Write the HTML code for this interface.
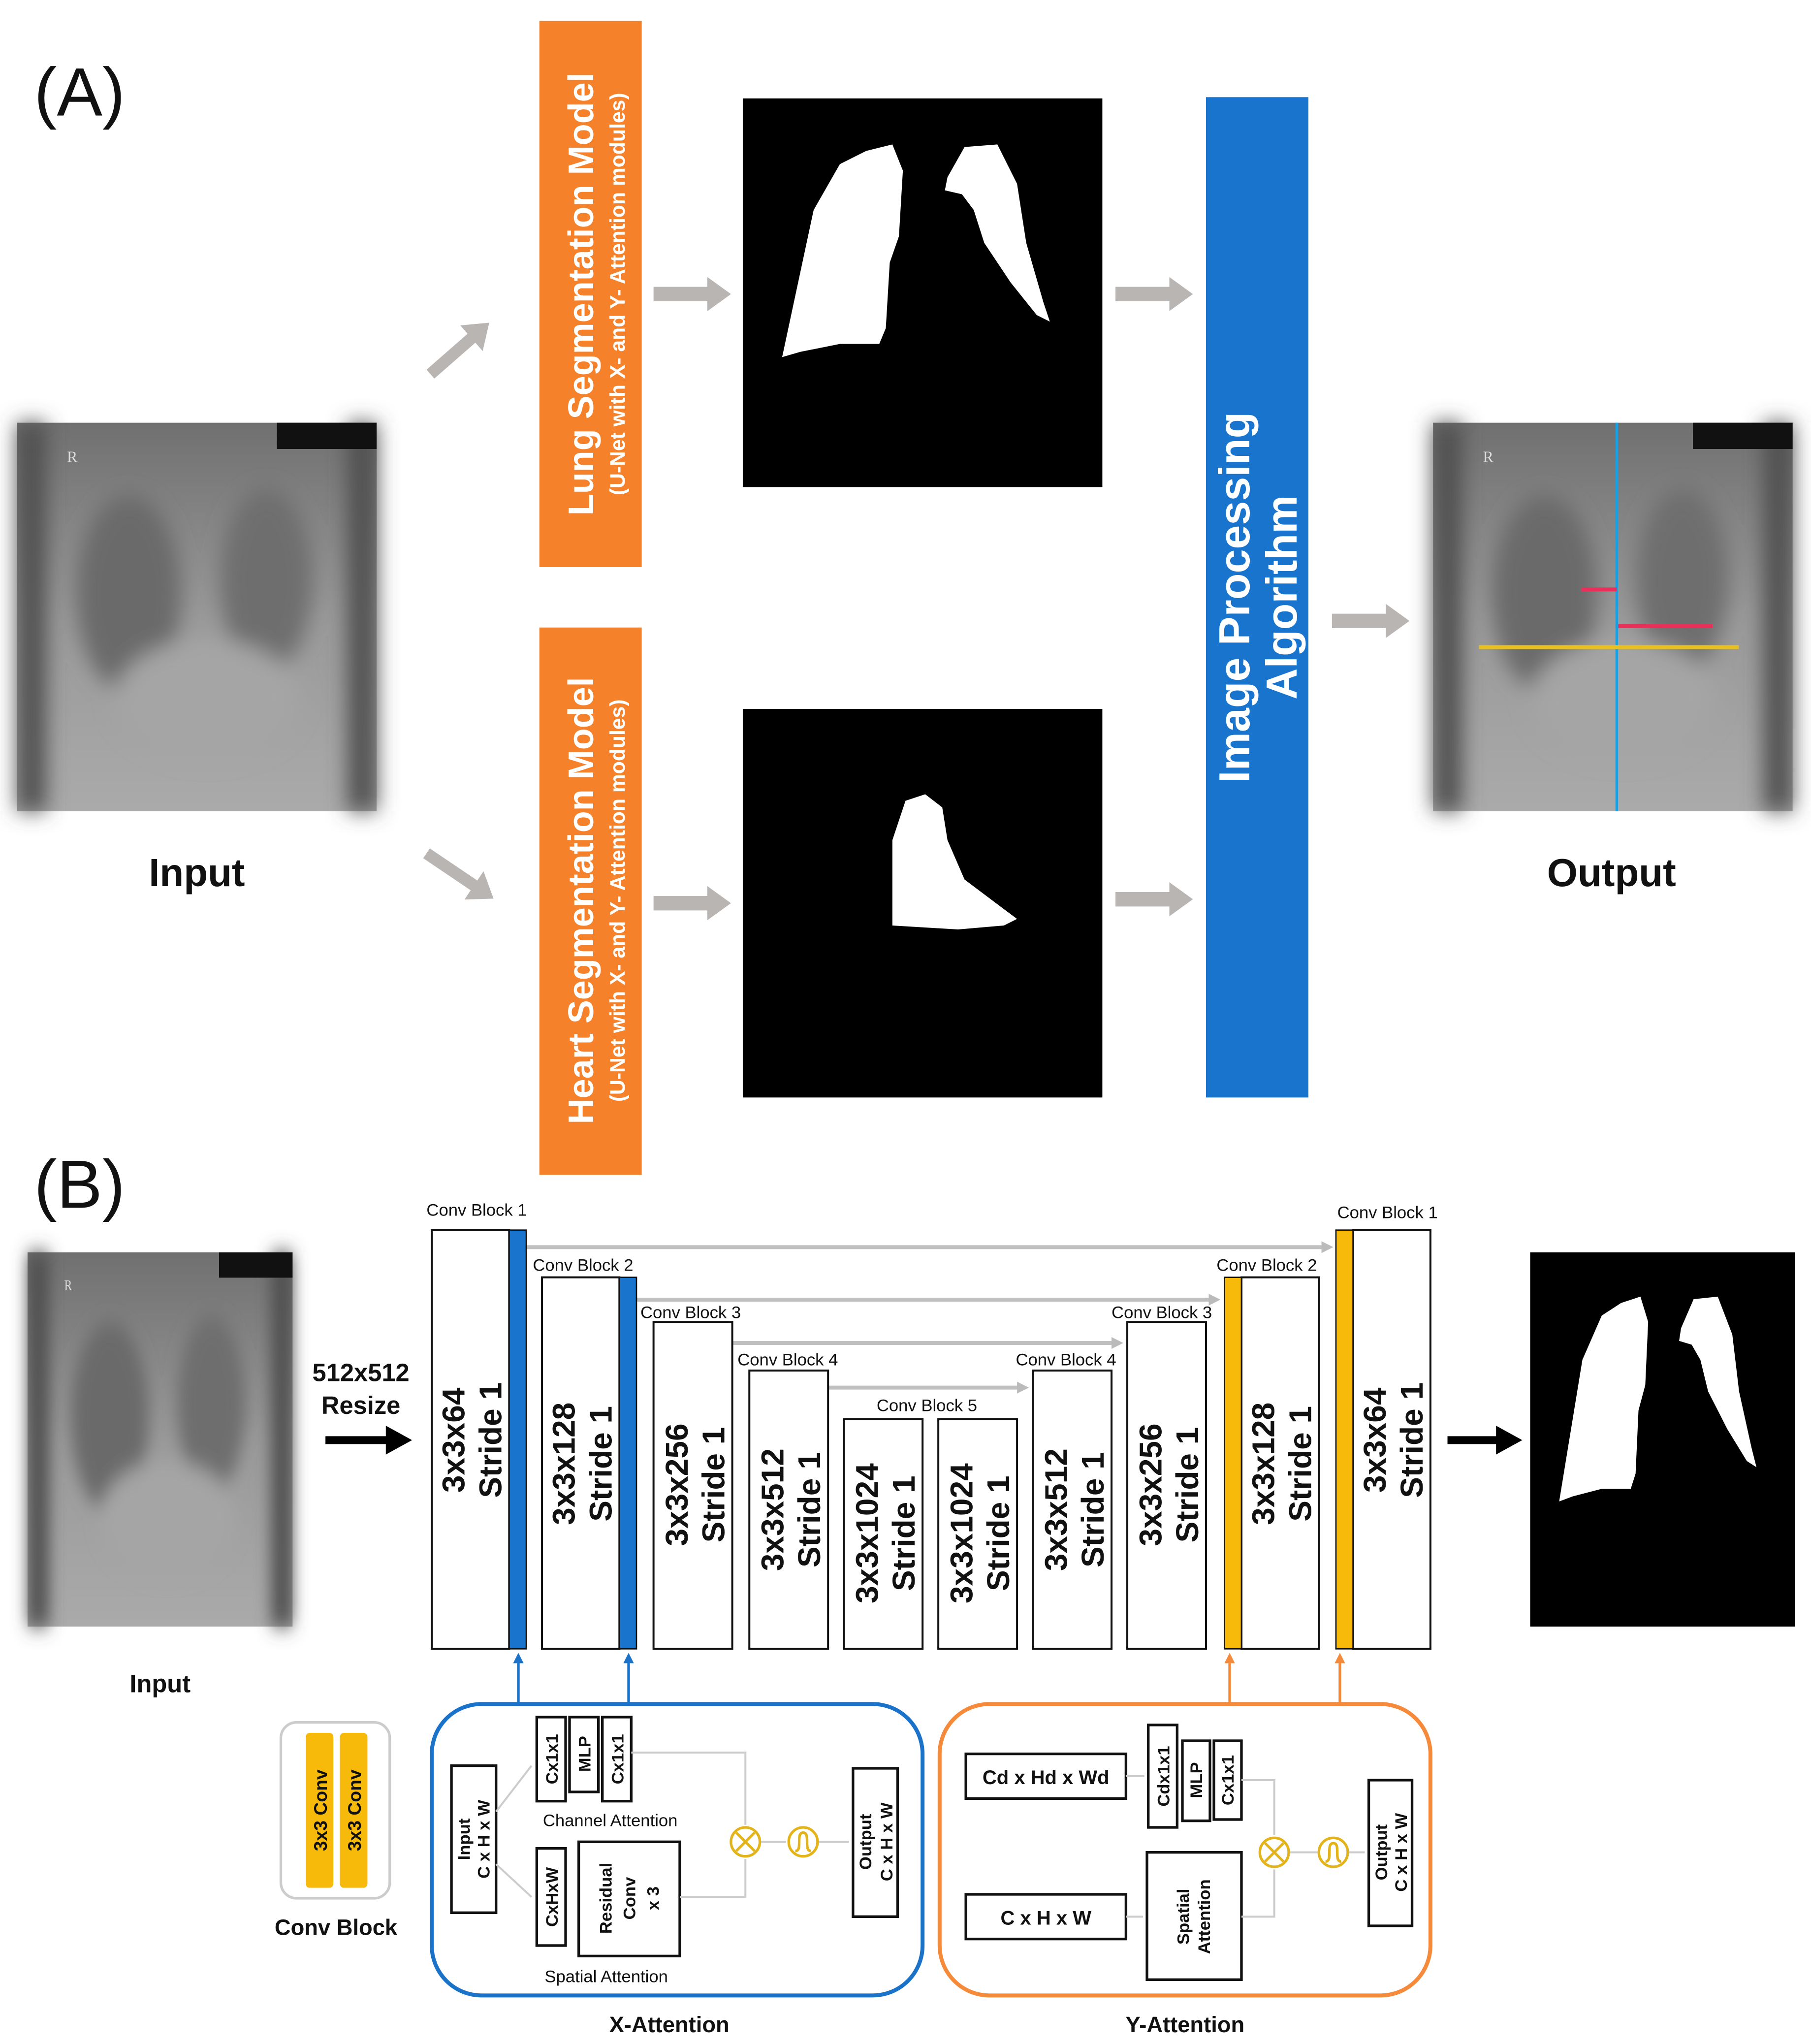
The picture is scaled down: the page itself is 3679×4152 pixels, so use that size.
<!DOCTYPE html>
<html><head><meta charset="utf-8"><style>html,body{margin:0;padding:0;background:#fff}svg{display:block}</style></head>
<body>
<svg width="3679" height="4152" viewBox="0 0 1380 1557" preserveAspectRatio="none" xmlns="http://www.w3.org/2000/svg" font-family="Liberation Sans, DejaVu Sans, sans-serif">
<defs>
<linearGradient id="xg" x1="0" y1="0" x2="0" y2="1"><stop offset="0" stop-color="#707070"/><stop offset="0.5" stop-color="#999"/><stop offset="1" stop-color="#aaa"/></linearGradient>
<filter id="bl"><feGaussianBlur stdDeviation="8"/></filter>
<marker id="ga" markerUnits="userSpaceOnUse" markerWidth="18" markerHeight="26" refX="1" refY="13" orient="auto"><path d="M0,0 L18,13 L0,26z" fill="#b9b5b3"/></marker>
<marker id="gs" markerUnits="userSpaceOnUse" markerWidth="9" markerHeight="9" refX="1" refY="4.5" orient="auto"><path d="M0,0 L9,4.5 L0,9z" fill="#bbb"/></marker>
<marker id="ba" markerUnits="userSpaceOnUse" markerWidth="8" markerHeight="8" refX="1" refY="4" orient="auto"><path d="M0,0 L8,4 L0,8z" fill="#1a73c9"/></marker>
<marker id="oa" markerUnits="userSpaceOnUse" markerWidth="8" markerHeight="8" refX="1" refY="4" orient="auto"><path d="M0,0 L8,4 L0,8z" fill="#f58a3a"/></marker>
<g id="xray">
<rect x="0" y="0" width="274" height="296" fill="url(#xg)"/>
<g filter="url(#bl)">
<ellipse cx="85" cy="130" rx="40" ry="75" fill="#6a6a6a"/>
<ellipse cx="190" cy="120" rx="35" ry="70" fill="#6e6e6e"/>
<ellipse cx="145" cy="210" rx="70" ry="45" fill="#a5a5a5"/>
<rect x="0" y="0" width="22" height="296" fill="#505050"/>
<rect x="252" y="0" width="22" height="296" fill="#505050"/>
</g>
<rect x="198" y="0" width="76" height="20" fill="#111"/>
<text x="38" y="30" font-size="12" fill="#ddd" font-family="Liberation Serif">R</text>
</g>
<g id="lung">
<rect x="0" y="0" width="274" height="296" fill="#000"/>
<path d="M30,197 L54,85 L74,50 L94,40 L114,35 L122,55 L119,105 L112,125 L109,175 L104,187 L74,187 L44,193Z" fill="#fff"/>
<path d="M156,60 L169,37 L194,35 L209,65 L216,110 L229,155 L234,170 L224,165 L204,140 L184,110 L176,85 L167,73 L154,70Z" fill="#fff"/>
</g>
</defs>

<!-- (A) -->
<text x="26" y="88" font-size="52" fill="#111">(A)</text>
<rect x="411" y="16" width="78" height="416" fill="#f5822a"/>
<text transform="translate(452,224) rotate(-90)" text-anchor="middle" font-size="27" font-weight="bold" fill="#fff">Lung Segmentation Model</text>
<text transform="translate(476,224) rotate(-90)" text-anchor="middle" font-size="16" font-weight="bold" fill="#fff">(U-Net with X- and Y- Attention modules)</text>
<rect x="411" y="478" width="78" height="417" fill="#f5822a"/>
<text transform="translate(452,686) rotate(-90)" text-anchor="middle" font-size="27" font-weight="bold" fill="#fff">Heart Segmentation Model</text>
<text transform="translate(476,686) rotate(-90)" text-anchor="middle" font-size="16" font-weight="bold" fill="#fff">(U-Net with X- and Y- Attention modules)</text>

<g stroke="#b9b5b3" stroke-width="11" fill="none" marker-end="url(#ga)">
<line x1="328" y1="285" x2="360" y2="257" stroke-width="9"/>
<line x1="325" y1="650" x2="362" y2="675" stroke-width="9"/>
<line x1="498" y1="224" x2="540" y2="224"/>
<line x1="498" y1="688" x2="540" y2="688"/>
<line x1="850" y1="224" x2="892" y2="224"/>
<line x1="850" y1="685" x2="892" y2="685"/>
<line x1="1015" y1="473" x2="1057" y2="473"/>
</g>

<use href="#lung" x="566" y="75"/>
<rect x="566" y="540" width="274" height="296" fill="#000"/>
<path d="M680,705 L680,640 L690,610 L705,605 L718,615 L722,640 L735,670 L775,700 L765,705 L730,708Z" fill="#fff"/>
<rect x="919" y="74" width="78" height="762" fill="#1874cd"/>
<text transform="translate(952,455) rotate(-90)" text-anchor="middle" font-size="33" font-weight="bold" fill="#fff">Image Processing</text>
<text transform="translate(988,455) rotate(-90)" text-anchor="middle" font-size="33" font-weight="bold" fill="#fff">Algorithm</text>

<use href="#xray" x="13" y="322"/>
<use href="#xray" x="1092" y="322"/>
<line x1="1232" y1="322" x2="1232" y2="618" stroke="#1aa0e0" stroke-width="2"/>
<line x1="1205" y1="449" x2="1232" y2="449" stroke="#e8305a" stroke-width="3"/>
<line x1="1233" y1="477" x2="1305" y2="477" stroke="#e8305a" stroke-width="3"/>
<line x1="1127" y1="493" x2="1325" y2="493" stroke="#e8c020" stroke-width="3"/>
<text x="150" y="675" text-anchor="middle" font-size="30" font-weight="bold" fill="#111">Input</text>
<text x="1228" y="675" text-anchor="middle" font-size="30" font-weight="bold" fill="#111">Output</text>

<!-- (B) -->
<text x="26" y="920" font-size="52" fill="#111">(B)</text>
<use href="#xray" transform="translate(21,954) scale(0.737,0.963)"/>
<text x="122" y="1289" text-anchor="middle" font-size="19" font-weight="bold" fill="#111">Input</text>
<text x="275" y="1052" text-anchor="middle" font-size="19" font-weight="bold" fill="#111">512x512</text>
<text x="275" y="1077" text-anchor="middle" font-size="19" font-weight="bold" fill="#111">Resize</text>
<line x1="248" y1="1097" x2="296" y2="1097" stroke="#000" stroke-width="6"/>
<path d="M294,1086 L314,1097 L294,1108Z" fill="#000"/>
<line x1="1103" y1="1097" x2="1142" y2="1097" stroke="#000" stroke-width="6"/>
<path d="M1140,1086 L1160,1097 L1140,1108Z" fill="#000"/>
<use href="#lung" transform="translate(1166,954) scale(0.737,0.963)"/>

<!-- skip arrows -->
<g stroke="#c0c0c0" stroke-width="3" fill="none" marker-end="url(#gs)">
<line x1="401" y1="950" x2="1008" y2="950"/>
<line x1="485" y1="990" x2="922" y2="990"/>
<line x1="558" y1="1023" x2="848" y2="1023"/>
<line x1="631" y1="1057" x2="776" y2="1057"/>
</g>

<g stroke="#111" stroke-width="1.5" fill="#fff">
<rect x="329" y="937" width="59" height="319"/>
<rect x="413" y="973" width="59" height="283"/>
<rect x="498" y="1007" width="60" height="249"/>
<rect x="571" y="1044" width="60" height="212"/>
<rect x="643" y="1081" width="60" height="175"/>
<rect x="715" y="1081" width="60" height="175"/>
<rect x="787" y="1044" width="60" height="212"/>
<rect x="859" y="1007" width="60" height="249"/>
<rect x="946" y="973" width="59" height="283"/>
<rect x="1031" y="937" width="59" height="319"/>
</g>
<g stroke="#111" stroke-width="1">
<rect x="388" y="937" width="13" height="319" fill="#1874cd"/>
<rect x="472" y="973" width="13" height="283" fill="#1874cd"/>
<rect x="933" y="973" width="13" height="283" fill="#f7b90a"/>
<rect x="1018" y="937" width="13" height="319" fill="#f7b90a"/>
</g>
<g font-size="13" fill="#111">
<text x="325" y="926">Conv Block 1</text>
<text x="406" y="968">Conv Block 2</text>
<text x="488" y="1004">Conv Block 3</text>
<text x="562" y="1040">Conv Block 4</text>
<text x="668" y="1075">Conv Block 5</text>
<text x="774" y="1040">Conv Block 4</text>
<text x="847" y="1004">Conv Block 3</text>
<text x="927" y="968">Conv Block 2</text>
<text x="1019" y="928">Conv Block 1</text>
</g>
<g font-size="24" font-weight="bold" fill="#111" text-anchor="middle">
<text transform="translate(354,1097) rotate(-90)">3x3x64</text><text transform="translate(382,1097) rotate(-90)">Stride 1</text>
<text transform="translate(438,1115) rotate(-90)">3x3x128</text><text transform="translate(466,1115) rotate(-90)">Stride 1</text>
<text transform="translate(524,1131) rotate(-90)">3x3x256</text><text transform="translate(552,1131) rotate(-90)">Stride 1</text>
<text transform="translate(597,1150) rotate(-90)">3x3x512</text><text transform="translate(625,1150) rotate(-90)">Stride 1</text>
<text transform="translate(669,1168) rotate(-90)">3x3x1024</text><text transform="translate(697,1168) rotate(-90)">Stride 1</text>
<text transform="translate(741,1168) rotate(-90)">3x3x1024</text><text transform="translate(769,1168) rotate(-90)">Stride 1</text>
<text transform="translate(813,1150) rotate(-90)">3x3x512</text><text transform="translate(841,1150) rotate(-90)">Stride 1</text>
<text transform="translate(885,1131) rotate(-90)">3x3x256</text><text transform="translate(913,1131) rotate(-90)">Stride 1</text>
<text transform="translate(971,1115) rotate(-90)">3x3x128</text><text transform="translate(999,1115) rotate(-90)">Stride 1</text>
<text transform="translate(1056,1097) rotate(-90)">3x3x64</text><text transform="translate(1084,1097) rotate(-90)">Stride 1</text>
</g>

<!-- up arrows -->
<g stroke-width="2">
<line x1="395" y1="1298" x2="395" y2="1266" stroke="#1a73c9" marker-end="url(#ba)"/>
<line x1="479" y1="1298" x2="479" y2="1266" stroke="#1a73c9" marker-end="url(#ba)"/>
<line x1="937" y1="1298" x2="937" y2="1266" stroke="#f58a3a" marker-end="url(#oa)"/>
<line x1="1021" y1="1298" x2="1021" y2="1266" stroke="#f58a3a" marker-end="url(#oa)"/>
</g>

<!-- conv block legend -->
<rect x="214" y="1312" width="83" height="134" rx="12" fill="#fff" stroke="#ccc" stroke-width="2"/>
<rect x="233" y="1320" width="21" height="118" rx="3" fill="#f7b90a"/>
<rect x="259" y="1320" width="21" height="118" rx="3" fill="#f7b90a"/>
<text transform="translate(249,1379) rotate(-90)" text-anchor="middle" font-size="14" font-weight="bold" fill="#111">3x3 Conv</text>
<text transform="translate(275,1379) rotate(-90)" text-anchor="middle" font-size="14" font-weight="bold" fill="#111">3x3 Conv</text>
<text x="256" y="1474" text-anchor="middle" font-size="17" font-weight="bold" fill="#111">Conv Block</text>

<!-- X-attention -->
<rect x="329" y="1298" width="374" height="222" rx="38" fill="none" stroke="#1a73c9" stroke-width="3"/>
<text x="510" y="1548" text-anchor="middle" font-size="17" font-weight="bold" fill="#111">X-Attention</text>
<g stroke="#111" stroke-width="2" fill="#fff">
<rect x="344" y="1345" width="34" height="112"/>
<rect x="409" y="1308" width="22" height="64"/>
<rect x="434" y="1308" width="22" height="57"/>
<rect x="459" y="1308" width="22" height="64"/>
<rect x="409" y="1408" width="22" height="74"/>
<rect x="441" y="1403" width="77" height="87"/>
<rect x="650" y="1347" width="34" height="113"/>
</g>
<g stroke="#ccc" stroke-width="1.5" fill="none">
<path d="M378,1380 L405,1345"/><path d="M378,1420 L405,1445"/>
<path d="M481,1335 L568,1335 L568,1390"/><path d="M518,1445 L568,1445 L568,1416"/>
<path d="M579,1403 L599,1403"/><path d="M623,1403 L647,1403"/>
</g>
<g font-size="13" font-weight="bold" fill="#111" text-anchor="middle">
<text transform="translate(358,1401) rotate(-90)">Input</text>
<text transform="translate(373,1401) rotate(-90)">C x H x W</text>
<text transform="translate(425,1340) rotate(-90)">Cx1x1</text>
<text transform="translate(450,1336) rotate(-90)">MLP</text>
<text transform="translate(475,1340) rotate(-90)">Cx1x1</text>
<text transform="translate(425,1445) rotate(-90)">CxHxW</text>
<text transform="translate(466,1446) rotate(-90)">Residual</text>
<text transform="translate(484,1446) rotate(-90)">Conv</text>
<text transform="translate(502,1446) rotate(-90)">x 3</text>
<text transform="translate(664,1403) rotate(-90)">Output</text>
<text transform="translate(680,1403) rotate(-90)">C x H x W</text>
</g>
<text x="465" y="1391" text-anchor="middle" font-size="13" fill="#111">Channel Attention</text>
<text x="462" y="1510" text-anchor="middle" font-size="13" fill="#111">Spatial Attention</text>
<g stroke="#e3b31a" stroke-width="2" fill="#fff">
<circle cx="568" cy="1403" r="11"/><path d="M561,1396 L575,1410 M575,1396 L561,1410"/>
<circle cx="612" cy="1403" r="11"/><path d="M606,1410 C612,1410 606,1396 612,1396 C618,1396 612,1410 618,1410" fill="none"/>
</g>

<!-- Y-attention -->
<rect x="716" y="1298" width="374" height="222" rx="38" fill="none" stroke="#f58a3a" stroke-width="3"/>
<text x="903" y="1548" text-anchor="middle" font-size="17" font-weight="bold" fill="#111">Y-Attention</text>
<g stroke="#111" stroke-width="2" fill="#fff">
<rect x="736" y="1336" width="122" height="34"/>
<rect x="736" y="1443" width="122" height="34"/>
<rect x="875" y="1314" width="22" height="78"/>
<rect x="901" y="1326" width="21" height="61"/>
<rect x="925" y="1326" width="21" height="60"/>
<rect x="874" y="1411" width="72" height="97"/>
<rect x="1043" y="1356" width="33" height="111"/>
</g>
<g stroke="#ccc" stroke-width="1.5" fill="none">
<path d="M858,1353 L872,1353"/><path d="M858,1460 L871,1460"/>
<path d="M946,1356 L971,1356 L971,1398"/><path d="M946,1460 L971,1460 L971,1424"/>
<path d="M982,1411 L1004,1411"/><path d="M1027,1411 L1040,1411"/>
</g>
<text x="797" y="1359" text-anchor="middle" font-size="15" font-weight="bold" fill="#111">Cd x Hd x Wd</text>
<text x="797" y="1466" text-anchor="middle" font-size="15" font-weight="bold" fill="#111">C x H x W</text>
<g font-size="13" font-weight="bold" fill="#111" text-anchor="middle">
<text transform="translate(891,1353) rotate(-90)">Cdx1x1</text>
<text transform="translate(916,1356) rotate(-90)">MLP</text>
<text transform="translate(940,1356) rotate(-90)">Cx1x1</text>
<text transform="translate(906,1460) rotate(-90)">Spatial</text>
<text transform="translate(922,1460) rotate(-90)">Attention</text>
<text transform="translate(1057,1411) rotate(-90)">Output</text>
<text transform="translate(1072,1411) rotate(-90)">C x H x W</text>
</g>
<g stroke="#e3b31a" stroke-width="2" fill="#fff">
<circle cx="971" cy="1411" r="11"/><path d="M964,1404 L978,1418 M978,1404 L964,1418"/>
<circle cx="1016" cy="1411" r="11"/><path d="M1010,1418 C1016,1418 1010,1404 1016,1404 C1022,1404 1016,1418 1022,1418" fill="none"/>
</g>
</svg>
</body></html>
